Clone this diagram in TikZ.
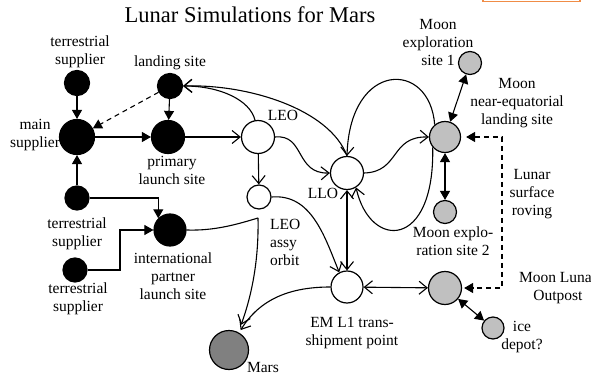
\documentclass[tikz,border=0pt]{standalone}
\usepackage{fontspec}
\setmainfont{Liberation Serif}
\usetikzlibrary{arrows.meta}

\definecolor{moongray}{RGB}{192,192,192}
\definecolor{marsgray}{RGB}{128,128,128}
\definecolor{tagorange}{RGB}{240,140,70}

\begin{document}
\begin{tikzpicture}[x=1pt,y=-1pt,
  every node/.style={font=\fontsize{15.5}{18}\selectfont},
  site/.style={circle, draw=black, inner sep=0pt, line width=1.2pt, minimum size=#1},
  earth/.style={site=#1, fill=black},
  orbit/.style={site=#1, fill=white},
  moon/.style={site=#1, fill=moongray},
  planet/.style={site=#1, fill=marsgray},
  lbl/.style={align=center, inner sep=0pt},
  link/.style={line width=1.1pt},
  fa/.style={link, -{Triangle[length=9pt,width=10pt]}},
  fab/.style={link, {Triangle[length=9pt,width=10pt]}-{Triangle[length=9pt,width=10pt]}},
  oa/.style={link, -{Straight Barb[length=8pt,width=13pt,line width=1.1pt]}},
  oab/.style={link, {Straight Barb[length=8pt,width=13pt,line width=1.1pt]}-{Straight Barb[length=8pt,width=13pt,line width=1.1pt]}},
  dashline/.style={dash pattern=on 5pt off 4pt}
]
\useasboundingbox (0,0) rectangle (591,377);
\clip (0,0) rectangle (591,377);

% title and tab edge
\node[anchor=base, font=\fontsize{22.5}{26}\selectfont] (title) at (250,23) {Lunar Simulations for Mars};
\draw[tagorange, line width=1.6pt] (483,-6) rectangle (580,1.5);

% Earth side
\node[earth=25] (ts1) at (77,83) {};
\node[earth=25] (ls)  at (170,86) {};
\node[earth=35] (ms)  at (77,137) {};
\node[earth=33] (pls) at (168,137) {};
\node[earth=24] (ts2) at (77,198) {};
\node[earth=24] (ts3) at (75,270) {};
\node[earth=32] (ipl) at (170,230) {};

% orbits and points
\node[orbit=33] (leo)  at (258,137) {};
\node[orbit=24] (leoa) at (259,197) {};
\node[orbit=33] (llo)  at (347,173) {};
\node[orbit=32] (eml1) at (347,287) {};
\coordinate (j) at (258,218);

% Moon and Mars
\node[moon=31] (mnl) at (445,137) {};
\node[moon=23] (me1) at (470,63) {};
\node[moon=23] (me2) at (445,212) {};
\node[moon=33] (mlo) at (445,288) {};
\node[moon=22] (ice) at (493,328) {};
\node[planet=39] (mars) at (229,350) {};

% labels
\node[lbl] (lts1) at (80,52) {terrestrial\\supplier};
\node[lbl] (lls)  at (170,63) {landing site};
\node[lbl] (lms)  at (35,135) {main\\supplier};
\node[lbl] (lpls) at (172,170) {primary\\launch site};
\node[lbl] (lts2) at (77,234) {terrestrial\\supplier};
\node[lbl] (lts3) at (78,299) {terrestrial\\supplier};
\node[lbl] (lipl) at (173,276) {international\\partner\\launch site};
\node[lbl] (lleo) at (283,115) {LEO};
\node[lbl, align=left, anchor=west] (lleoa) at (270,242) {LEO\\assy\\orbit};
\node[lbl] (lllo) at (323,193) {LLO};
\node[lbl] (leml) at (352,333) {EM L1 trans-\\shipment point};
\node[lbl] (lmars) at (263,367) {Mars};
\node[lbl] (lmnl) at (517,103) {Moon\\near-equatorial\\landing site};
\node[lbl] (lme1) at (438,43) {Moon\\exploration\\site 1};
\node[lbl] (lme2) at (453,241) {Moon explo-\\ration site 2};
\node[lbl] (lmlo) at (558,288) {Moon Lunar\\Outpost};
\node[lbl] (lice) at (522,337) {ice\\depot?};
\node[lbl] (lrov) at (532,194) {Lunar\\surface\\roving};

% Earth logistics
\draw[fa] (ts1) -- (ms);
\draw[fa] (ls) -- (pls);
\draw[fa, dashline] (ls) -- (ms);
\draw[fa] (ms) -- (pls);
\draw[fa] (ts2) -- (ms);
\draw[fa] (ts2) -| (ipl.north west);
\draw[fa] (ts3) -- ++(45,0) |- (ipl);
\draw[oa] (pls) -- (leo);

% launch site to assembly orbit, on to Mars
\draw[link] (ipl.east) .. controls (215,231) and (238,224) .. (j);
\draw[oa, shorten >=8pt] (j) .. controls (259,265) and (250,300) .. (mars.62);

% Earth orbit transfers
\draw[oa] (leo) -- (leoa);
\draw[oa] (leo.100) .. controls (250,100) and (220,86) .. (ls.east);
\draw[oa] (llo.north) .. controls (330,110) and (250,84) .. (ls.east);
\draw[oa] (leo.east) .. controls (305,134) and (295,174) .. (llo.west);
\draw[oa] (leoa.east) to[out=5,in=112] (eml1.118);
\draw[oa, shorten >=3pt] (eml1.west) to[out=180,in=58] (mars.60);

% lunar transfers
\draw[oa] (llo.east) .. controls (400,172) and (390,136) .. (mnl.west);
\draw[oa] (mnl.130) .. controls (430,60) and (350,60) .. (llo.north);
\draw[oa] (mnl.220) .. controls (435,250) and (370,250) .. (llo.-58);
\draw[oab] (llo) -- (eml1);
\draw[oab] (eml1) -- (mlo);

% lunar surface
\draw[fab] (mnl) -- (me1);
\draw[fab] (mnl) -- (me2);
\draw[fab] (mlo) -- (ice);
\draw[fab, dashline, shorten <=5pt, shorten >=2pt] (mnl) -- ++(57,0) |- (mlo);
\end{tikzpicture}
\end{document}
